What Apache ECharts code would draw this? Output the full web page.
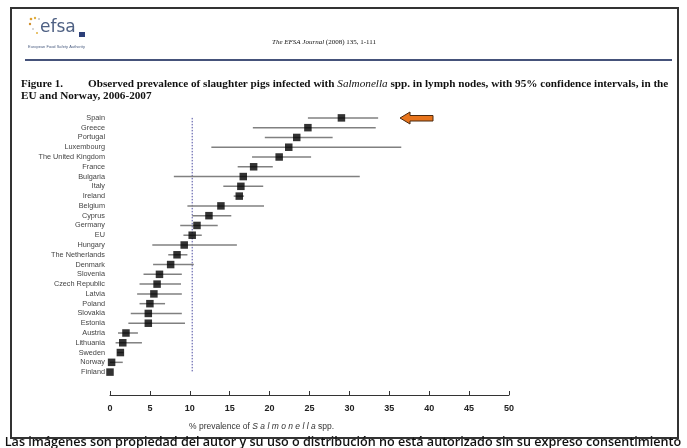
<!DOCTYPE html>
<html>
<head>
<meta charset="utf-8">
<script src="https://cdn.jsdelivr.net/npm/echarts@6/dist/echarts.min.js"></script>
<style>html,body{margin:0;padding:0;background:#fff}#c{width:687px;height:448px}</style>
</head>
<body>
<div id="c"></div>
<script>
const categories = ['Spain','Greece','Portugal','Luxembourg','The United Kingdom','France','Bulgaria','Italy','Ireland','Belgium','Cyprus','Germany','EU','Hungary','The Netherlands','Denmark','Slovenia','Czech Republic','Latvia','Poland','Slovakia','Estonia','Austria','Lithuania','Sweden','Norway','Finland'];
const prevalence = [29.0,24.8,23.4,22.4,21.2,18.0,16.7,16.4,16.2,13.9,12.4,10.9,10.3,9.3,8.4,7.6,6.2,5.9,5.5,5.0,4.8,4.8,2.0,1.6,1.3,0.2,0.0];
const lowerCI = [24.8,17.9,19.4,12.7,17.8,16.0,8.0,14.2,15.5,9.7,10.3,8.8,9.2,5.3,7.3,5.4,4.2,3.7,3.4,3.7,2.6,2.3,1.0,0.7,0.9,0.0,0.0];
const upperCI = [33.6,33.3,27.9,36.5,25.2,20.4,31.3,19.2,16.8,19.3,15.2,13.5,11.5,15.9,9.7,10.5,9.0,8.9,9.0,6.9,9.0,9.4,3.5,4.0,1.7,1.6,0.0];
const euValue = 10.3;
const xTicks = [0,5,10,15,20,25,30,35,40,45,50];

const chart = echarts.init(document.getElementById('c'), null, {renderer:'canvas'});
const ciData = categories.map((c,i)=>[lowerCI[i], upperCI[i], i]);
const ptData = categories.map((c,i)=>[prevalence[i], c]);

chart.setOption({
  animation:false,
  backgroundColor:'#fff',
  grid:{left:110, width:399, top:113, height:264},
  xAxis:{
    type:'value', min:xTicks[0], max:xTicks[xTicks.length-1], interval:5, offset:18,
    axisLine:{show:true, lineStyle:{color:'#333', width:1}},
    axisTick:{show:true, inside:true, length:4, lineStyle:{color:'#333'}},
    axisLabel:{color:'#222', fontSize:9, fontWeight:'bold', fontFamily:'Liberation Sans', margin:9},
    splitLine:{show:false}
  },
  yAxis:{
    type:'category', data:categories, inverse:true,
    axisLine:{show:false}, axisTick:{show:false},
    axisLabel:{color:'#444', fontSize:7.3, fontFamily:'Liberation Sans', margin:5}
  },
  series:[
    {
      type:'line', data:[[euValue,categories[0]],[euValue,categories[categories.length-1]]],
      symbol:'none', lineStyle:{color:'#4a4aa0', width:1, type:[1.5,1.5]}, z:1
    },
    {
      type:'custom', data:ciData, z:2,
      renderItem:function(params, api){
        const a = api.coord([api.value(0), api.value(2)]);
        const b = api.coord([api.value(1), api.value(2)]);
        return {type:'line', shape:{x1:a[0], y1:a[1], x2:b[0], y2:b[1]}, style:{stroke:'#808080', lineWidth:1.5}};
      },
      encode:{x:[0,1], y:2}
    },
    {
      type:'scatter', data:ptData, symbol:'rect', symbolSize:7.5,
      itemStyle:{color:'#000'}, z:3
    }
  ],
  graphic:[
    {type:'rect', shape:{x:11,y:8,width:667,height:430}, style:{fill:'none', stroke:'#333', lineWidth:2}, silent:true},
    {type:'text', x:40, y:19, style:{text:'efsa', font:'17px "DejaVu Sans"', fill:'#4f6184'}},
    {type:'rect', shape:{x:79,y:32,width:6,height:5}, style:{fill:'#2c3f78'}},
    {type:'circle', shape:{cx:31,cy:19,r:1.3}, style:{fill:'#e0a030'}},
    {type:'circle', shape:{cx:35,cy:18,r:1.2}, style:{fill:'#e0b040'}},
    {type:'circle', shape:{cx:39,cy:19,r:1}, style:{fill:'#c0c0c0'}},
    {type:'circle', shape:{cx:30,cy:24,r:1.2}, style:{fill:'#d09030'}},
    {type:'circle', shape:{cx:33,cy:29,r:1}, style:{fill:'#c8c8c8'}},
    {type:'circle', shape:{cx:37,cy:33,r:1}, style:{fill:'#e0b040'}},
    {type:'text', x:28, y:45, style:{text:'European Food Safety Authority', font:'4px "Liberation Sans"', fill:'#4f6184'}},
    {type:'text', x:272, y:39, style:{rich:{i:{font:'italic 7px "Liberation Serif"', fill:'#111'}, n:{font:'7px "Liberation Serif"', fill:'#111'}}, text:'{i|The EFSA Journal}{n| (2008) 135, 1-111}'}},
    {type:'line', shape:{x1:25,y1:60,x2:672,y2:60}, style:{stroke:'#45527a', lineWidth:1.8}},
    {type:'text', x:21, y:79, style:{text:'Figure 1.', font:'bold 11px "Liberation Serif"', fill:'#111'}},
    {type:'text', x:88, y:79, style:{rich:{b:{font:'bold 11.2px "Liberation Serif"', fill:'#111'}, i:{font:'italic 11.2px "Liberation Serif"', fill:'#111'}}, text:'{b|Observed prevalence of slaughter pigs infected with }{i|Salmonella}{b| spp. in lymph nodes, with 95% confidence intervals, in the}'}},
    {type:'text', x:21, y:91, style:{text:'EU and Norway, 2006-2007', font:'bold 11.2px "Liberation Serif"', fill:'#111'}},
    {type:'polygon', shape:{points:[[400,118],[410,112],[410,115.5],[433,115.5],[433,121],[410,121],[410,124]]}, style:{fill:'#e8741c', stroke:'#4a2a10', lineWidth:1}},
    {type:'text', x:189, y:422, style:{rich:{n:{font:'8.5px "Liberation Sans"', fill:'#333'}, i:{font:'italic 8.5px "Liberation Sans"', fill:'#333'}}, text:'{n|% prevalence of }{i|S a l m o n e l l a}{n| spp.}'}},
    {type:'text', x:343, y:442, style:{text:'Las imágenes son propiedad del autor y su uso o distribución no está autorizado sin su expreso consentimiento', font:'600 12.6px "Open Sans"', fill:'#111', align:'center', verticalAlign:'middle'}}
  ]
});
</script>
</body>
</html>
